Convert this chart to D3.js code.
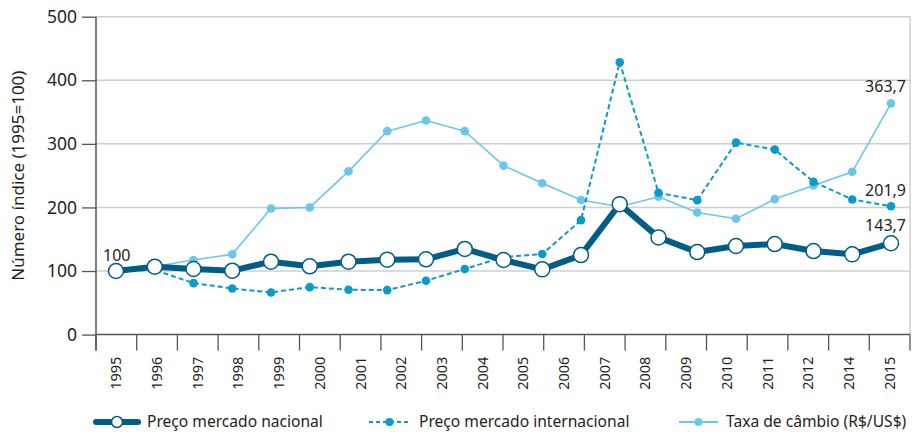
<!DOCTYPE html>
<html>
<head>
<meta charset="utf-8">
<script src="https://cdn.jsdelivr.net/npm/d3@7"></script>
<style>
  body { margin: 0; background: #fff; }
  text { font-family: "Noto Sans", sans-serif; fill: #231f20; }
</style>
</head>
<body>
<div id="chart"></div>
<script>
// data
const years = [1995, 1996, 1997, 1998, 1999, 2000, 2001, 2002, 2003, 2004, 2005,
  2006, 2007, 2008, 2009, 2010, 2011, 2012, 2013, 2014, 2015];
// the printed axis skips 2013
const tickLabels = ["1995", "1996", "1997", "1998", "1999", "2000", "2001", "2002", "2003", "2004",
  "2005", "2006", "2007", "2008", "2009", "2010", "2011", "2012", "2014", "2015"];
const nacional = [100, 106.8, 103.2, 100.5, 114.7, 107.4, 114.7, 117.9, 118.4, 134.7, 117.3,
  102.6, 125.1, 205.2, 152.9, 129.8, 139.3, 142.4, 131.4, 126.2, 143.7];
const internacional = [100, 101.6, 81, 72.6, 66.3, 74.7, 70.5, 70, 84.7, 103.2, 122,
  126.7, 180, 428.4, 223, 211.5, 302, 291, 240.3, 212.6, 201.9];
const cambio = [100, 107, 117.4, 126.3, 198.4, 200, 256.8, 320, 336.8, 320, 265.8,
  238, 211.8, 201, 216.8, 192.1, 182.2, 213.1, 234.6, 256.1, 363.7];
const yTicks = [0, 100, 200, 300, 400, 500];
const seriesNames = ["Preço mercado nacional", "Preço mercado internacional", "Taxa de câmbio (R$/US$)"];
const endLabels = ["143,7", "201,9", "363,7"];

const W = 912, H = 432;
const pLeft = 96, pRight = 910, pTop = 16.7, pBottom = 334.6;
const cDark = "#005d86", cMid = "#0a9bc9", cLight = "#6cc6ec";

const svg = d3.select("#chart").append("svg").attr("width", W).attr("height", H);

const xBand = d3.scaleBand().domain(tickLabels).range([pLeft, pRight]);
const x = d3.scalePoint().domain(years).range([pLeft + 20, pRight - 19]);
const y = d3.scaleLinear().domain([0, 500]).range([pBottom, pTop]);

// grid
svg.append("g").selectAll("line").data(yTicks.slice(1)).join("line")
  .attr("x1", pLeft).attr("x2", pRight)
  .attr("y1", d => y(d)).attr("y2", d => y(d))
  .attr("stroke", "#cfcfcf").attr("stroke-width", 1.5);
svg.append("line").attr("x1", pRight).attr("x2", pRight).attr("y1", pTop).attr("y2", pBottom)
  .attr("stroke", "#cfcfcf").attr("stroke-width", 1.5);

// y axis
const yAxis = svg.append("g").attr("transform", `translate(${pLeft},0)`)
  .call(d3.axisLeft(y).tickValues(yTicks).tickSize(14).tickPadding(5));
yAxis.select(".domain").remove();
yAxis.selectAll(".tick line").attr("stroke", "#555").attr("stroke-width", 1.3);
yAxis.selectAll(".tick text").style("font-size", "17.5px").attr("fill", "#231f20");
svg.append("line").attr("x1", pLeft).attr("x2", pLeft).attr("y1", pTop).attr("y2", pBottom + 16)
  .attr("stroke", "#555").attr("stroke-width", 1.5);

// x axis: ticks on band edges, labels rotated
svg.append("line").attr("x1", pLeft).attr("x2", pRight).attr("y1", pBottom).attr("y2", pBottom)
  .attr("stroke", "#555").attr("stroke-width", 1.5);
const edges = tickLabels.map(d => xBand(d)).concat([pRight]);
svg.append("g").selectAll("line").data(edges).join("line")
  .attr("x1", d => d).attr("x2", d => d)
  .attr("y1", pBottom).attr("y2", pBottom + 16)
  .attr("stroke", "#555").attr("stroke-width", 1.3);
svg.append("g").selectAll("text").data(tickLabels).join("text")
  .attr("transform", d => `translate(${xBand(d) + xBand.bandwidth() / 2 + 5},${pBottom + 22}) rotate(-90)`)
  .attr("text-anchor", "end")
  .style("font-size", "14.5px")
  .text(d => d);

// y title
svg.append("text")
  .attr("transform", `translate(24,${(pTop + pBottom) / 2}) rotate(-90)`)
  .attr("text-anchor", "middle")
  .style("font-size", "17px")
  .text("Número índice (1995=100)");

const line = d3.line().x((d, i) => x(years[i])).y(d => y(d));

// taxa de câmbio
svg.append("path").datum(cambio).attr("d", line)
  .attr("fill", "none").attr("stroke", cLight).attr("stroke-width", 1.6);
svg.append("g").selectAll("circle").data(cambio).join("circle")
  .attr("cx", (d, i) => x(years[i])).attr("cy", d => y(d)).attr("r", 4.3)
  .attr("fill", cLight);

// internacional
svg.append("path").datum(internacional).attr("d", line)
  .attr("fill", "none").attr("stroke", cMid).attr("stroke-width", 2)
  .attr("stroke-dasharray", "5,3");
svg.append("g").selectAll("circle").data(internacional).join("circle")
  .attr("cx", (d, i) => x(years[i])).attr("cy", d => y(d)).attr("r", 4.3)
  .attr("fill", cMid);

// nacional
svg.append("path").datum(nacional).attr("d", line)
  .attr("fill", "none").attr("stroke", cDark).attr("stroke-width", 6)
  .attr("stroke-linejoin", "round");
svg.append("g").selectAll("circle").data(nacional).join("circle")
  .attr("cx", (d, i) => x(years[i])).attr("cy", d => y(d)).attr("r", 7.5)
  .attr("fill", "#fff").attr("stroke", cDark).attr("stroke-width", 1.5);

// value labels
const last = years.length - 1;
svg.append("text").attr("x", x(years[0]) - 13).attr("y", y(nacional[0]) - 10)
  .style("font-size", "16px").text("100");
[[nacional, endLabels[0], -12], [internacional, endLabels[1], -10], [cambio, endLabels[2], -11]]
  .forEach(([s, t, dy]) => {
    svg.append("text").attr("x", 906).attr("y", y(s[last]) + dy)
      .attr("text-anchor", "end").style("font-size", "16px").text(t);
  });

// legend
const ly = 422;
const lg = svg.append("g");
lg.append("line").attr("x1", 96).attr("x2", 138).attr("y1", ly).attr("y2", ly)
  .attr("stroke", cDark).attr("stroke-width", 6).attr("stroke-linecap", "round");
lg.append("circle").attr("cx", 117).attr("cy", ly).attr("r", 5.5)
  .attr("fill", "#fff").attr("stroke", cDark).attr("stroke-width", 1.5);
lg.append("text").attr("x", 147).attr("y", ly + 5).style("font-size", "15.6px").text(seriesNames[0]);

lg.append("line").attr("x1", 369).attr("x2", 410).attr("y1", ly).attr("y2", ly)
  .attr("stroke", cMid).attr("stroke-width", 2).attr("stroke-dasharray", "4,3");
lg.append("circle").attr("cx", 389.5).attr("cy", ly).attr("r", 4).attr("fill", cMid);
lg.append("text").attr("x", 419).attr("y", ly + 5).style("font-size", "15.6px").text(seriesNames[1]);

lg.append("line").attr("x1", 679).attr("x2", 718).attr("y1", ly).attr("y2", ly)
  .attr("stroke", cLight).attr("stroke-width", 1.8);
lg.append("circle").attr("cx", 698.5).attr("cy", ly).attr("r", 4).attr("fill", cLight);
lg.append("text").attr("x", 726).attr("y", ly + 5).style("font-size", "15.6px").text(seriesNames[2]);
</script>
</body>
</html>
